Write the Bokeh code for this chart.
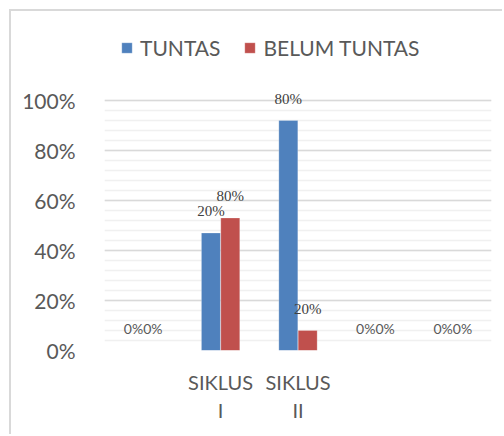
from bokeh.plotting import figure
from bokeh.models import (ColumnDataSource, FixedTicker, NumeralTickFormatter,
                          Legend, LegendItem)
from bokeh.transform import dodge
from bokeh.core.properties import value
from bokeh.embed import file_html
from bokeh.resources import INLINE

# ---- data ----
categories = [" ", "SIKLUS\nI", "SIKLUS\nII", "  ", "   "]
tuntas = [0.0, 0.47, 0.92, 0.0, 0.0]
belum = [0.0, 0.53, 0.08, 0.0, 0.0]
tuntas_labels = ["0%", "20%", "80%", "0%", "0%"]
belum_labels = ["0%", "80%", "20%", "0%", "0%"]
y_ticks = [0.0, 0.2, 0.4, 0.6, 0.8, 1.0]
series_names = ["TUNTAS", "BELUM TUNTAS"]

BLUE = "#4f81bd"
RED = "#c0504d"
SANS = "Lato"

p = figure(x_range=categories, y_range=(0, 1.3), width=493, height=425,
           output_backend="svg", toolbar_location=None,
           min_border_left=93, min_border_right=13,
           min_border_top=14, min_border_bottom=86)
p.styles = {"border-left": "2px solid #d9d9d9", "border-top": "2px solid #d9d9d9",
            "margin-left": "9px", "margin-top": "9px"}
p.outline_line_color = None

src = ColumnDataSource(dict(cat=categories, tuntas=tuntas, belum=belum))

r1 = p.vbar(x=dodge("cat", -0.125, range=p.x_range), top="tuntas", width=0.245,
            source=src, fill_color=BLUE, line_color="white", line_alpha=0.4, line_width=0.6)
r2 = p.vbar(x=dodge("cat", 0.125, range=p.x_range), top="belum", width=0.245,
            source=src, fill_color=RED, line_color="white", line_alpha=0.4, line_width=0.6)

# labels: non-zero values (serif) and zero values (sans)
def split(vals, labs):
    nz = dict(cat=[], y=[], t=[])
    z = dict(cat=[], y=[], t=[])
    for c, v, l in zip(categories, vals, labs):
        d = nz if v > 0 else z
        d["cat"].append(c); d["y"].append(v); d["t"].append(l)
    return nz, z

for vals, labs, off in [(tuntas, tuntas_labels, -0.125), (belum, belum_labels, 0.125)]:
    nz, z = split(vals, labs)
    p.text(x=dodge("cat", off, range=p.x_range), y="y", text="t",
           source=ColumnDataSource(nz), text_align="center", text_baseline="bottom",
           y_offset=-14, text_font=value("Liberation Serif"), text_font_size="15px",
           text_color="#404040")
    p.text(x=dodge("cat", off, range=p.x_range), y="y", text="t",
           source=ColumnDataSource(z), text_align="center", text_baseline="bottom",
           y_offset=-14, text_font=value(SANS), text_font_size="14px",
           text_color="#595959")

# axes
p.yaxis.ticker = FixedTicker(ticks=y_ticks, minor_ticks=[i * 0.04 for i in range(26)])
p.yaxis.formatter = NumeralTickFormatter(format="0%")
for ax in (p.xaxis[0], p.yaxis[0]):
    ax.axis_line_color = None
    ax.major_tick_line_color = None
    ax.minor_tick_line_color = None
    ax.major_label_text_font = SANS
    ax.major_label_text_color = "#595959"
p.yaxis.major_label_text_font_size = "21px"
p.yaxis.major_label_standoff = 23
p.xaxis.major_label_text_font_size = "20px"
p.xaxis.major_label_standoff = 13

p.xgrid.grid_line_color = None
p.ygrid.grid_line_color = "#d9d9d9"
p.ygrid.grid_line_width = 1.5
p.ygrid.minor_grid_line_color = "#f0f0f0"
p.ygrid.minor_grid_line_width = 1.5

legend = Legend(items=[LegendItem(label=series_names[0], renderers=[r1]),
                       LegendItem(label=series_names[1], renderers=[r2])],
                orientation="horizontal", location=(16, 290),
                glyph_width=13, glyph_height=13, label_standoff=7, spacing=23,
                padding=0, margin=0, border_line_color=None, background_fill_alpha=0,
                label_text_font=SANS, label_text_font_size="21px",
                label_text_color="#595959")
p.add_layout(legend)

open("out.html", "w").write(file_html(p, INLINE))
